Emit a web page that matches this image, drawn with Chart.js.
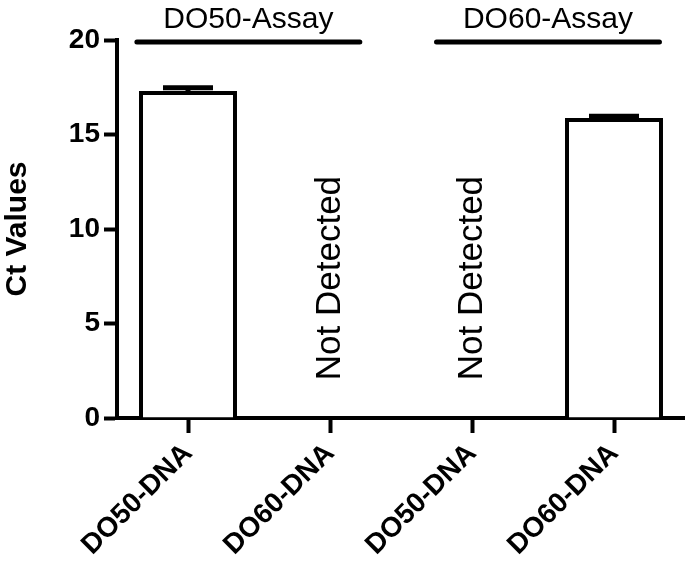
<!DOCTYPE html>
<html>
<head>
<meta charset="utf-8">
<script src="https://cdn.jsdelivr.net/npm/chart.js@4"></script>
<style>
  html, body { margin: 0; padding: 0; background: #fff; }
  canvas { display: block; }
</style>
</head>
<body>
<canvas id="chart" width="685" height="566"></canvas>
<script>
const categories = ['DO50-DNA', 'DO60-DNA', 'DO50-DNA', 'DO60-DNA'];
const ctValues = [17.3, null, null, 15.87];
const ctErrors = [0.17, null, null, 0.1];
const notDetected = [false, true, true, false];
const assayGroups = ['DO50-Assay', 'DO60-Assay'];
// group bar spans, in category index units
const groupStart = [-0.36, 1.75];
const groupEnd = [1.21, 3.32];
const yTicks = [0, 5, 10, 15, 20];

const FONT = '"Liberation Sans", Arial, Helvetica, sans-serif';

const annotations = {
  id: 'annotations',
  afterDatasetsDraw(chart) {
    const { ctx, scales: { x, y } } = chart;
    ctx.save();
    ctx.strokeStyle = '#000';
    ctx.fillStyle = '#000';

    // error bars (upper half only, lower part is hidden in the bar)
    ctx.lineWidth = 5;
    ctx.lineCap = 'butt';
    ctValues.forEach((v, i) => {
      if (v == null) return;
      const cx = x.getPixelForValue(i);
      const base = y.getPixelForValue(v);
      const top = y.getPixelForValue(v + ctErrors[i]);
      ctx.beginPath();
      ctx.moveTo(cx, base);
      ctx.lineTo(cx, top);
      ctx.moveTo(cx - 25, top);
      ctx.lineTo(cx + 25, top);
      ctx.stroke();
    });

    // "Not Detected" notes
    ctx.font = '35px ' + FONT;
    ctx.textAlign = 'left';
    ctx.textBaseline = 'middle';
    notDetected.forEach((nd, i) => {
      if (!nd) return;
      ctx.save();
      ctx.translate(x.getPixelForValue(i), y.getPixelForValue(2));
      ctx.rotate(-Math.PI / 2);
      ctx.fillText('Not Detected', 0, 0);
      ctx.restore();
    });

    // assay group lines + labels
    ctx.lineWidth = 5;
    ctx.lineCap = 'round';
    ctx.font = '30px ' + FONT;
    ctx.textAlign = 'center';
    ctx.textBaseline = 'alphabetic';
    assayGroups.forEach((name, g) => {
      const x0 = x.getPixelForValue(groupStart[g]);
      const x1 = x.getPixelForValue(groupEnd[g]);
      const ly = y.getPixelForValue(19.9);
      ctx.beginPath();
      ctx.moveTo(x0, ly);
      ctx.lineTo(x1, ly);
      ctx.stroke();
      ctx.fillText(name, (x0 + x1) / 2, ly - 14);
    });
    ctx.restore();
  }
};

new Chart(document.getElementById('chart'), {
  type: 'bar',
  data: {
    labels: categories,
    datasets: [{
      data: ctValues,
      backgroundColor: '#fff',
      borderColor: '#000',
      borderWidth: 4,
      borderSkipped: 'start',
      barPercentage: 0.69,
      categoryPercentage: 1,
    }],
  },
  options: {
    responsive: false,
    animation: false,
    devicePixelRatio: 1,
    layout: { padding: { top: 40, right: 0, left: 0, bottom: 0 } },
    plugins: { legend: { display: false }, tooltip: { enabled: false } },
    scales: {
      x: {
        grid: { offset: false, drawOnChartArea: false, tickLength: 15, tickWidth: 4, tickColor: '#000' },
        border: { color: '#000', width: 4 },
        ticks: {
          color: '#000', autoSkip: false, maxRotation: 45, minRotation: 45, padding: 4,
          font: { family: FONT, weight: 'bold', size: 28 },
        },
        afterFit: (s) => { s.height = 148; s.paddingLeft = 0; s.paddingRight = 0; },
      },
      y: {
        min: 0, max: 20,
        afterBuildTicks: (s) => { s.ticks = yTicks.map(v => ({ value: v })); },
        grid: { drawOnChartArea: false, tickLength: 13, tickWidth: 4, tickColor: '#000' },
        border: { color: '#000', width: 4 },
        ticks: { color: '#000', padding: 4, font: { family: FONT, weight: 'bold', size: 28 } },
        title: {
          display: true, text: 'Ct Values', color: '#000', padding: { top: 0, bottom: 0 },
          font: { family: FONT, weight: 'bold', size: 30 },
        },
        afterFit: (s) => { s.width = 117; },
      },
    },
  },
  plugins: [annotations],
});
</script>
</body>
</html>
